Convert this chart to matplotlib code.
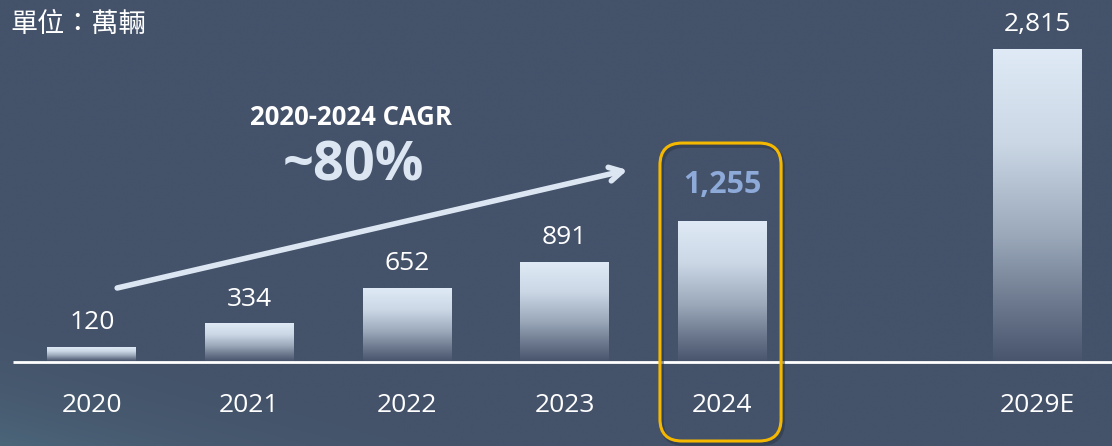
import numpy as np
import matplotlib
matplotlib.use("Agg")
import matplotlib.pyplot as plt
from matplotlib.colors import LinearSegmentedColormap
from matplotlib.patches import FancyBboxPatch

# ---- data ----
categories = ["2020", "2021", "2022", "2023", "2024", "2029E"]
positions = [0, 1, 2, 3, 4, 6]
values = [120, 334, 652, 891, 1255, 2815]
value_labels = ["120", "334", "652", "891", "1,255", "2,815"]
highlight = "2024"
unit_text = "單位：萬輛"
cagr_title = "2020-2024 CAGR"
cagr_value = "~80%"

W, H, DPI = 1112, 446, 100
fig = plt.figure(figsize=(W / DPI, H / DPI), dpi=DPI)
ax = fig.add_axes([0, 0, 1, 1])
ax.set_xlim(-0.584, 6.476)
ax.set_ylim(-767, 3258)
ax.axis("off")

# background gradient
bg_cmap = LinearSegmentedColormap.from_list("bg", ["#4b6579", "#475a70", "#44536a", "#44526a"])
yy, xx = np.mgrid[0:1:200j, 0:1:400j]
g = np.clip((xx * 0.9 + (1 - yy) * 1.3) / 1.2, 0, 1)
g = 1 - np.clip((1 - g) ** 3 * 1.0, 0, 1)
ax.imshow(g, extent=(-0.584, 6.476, -767, 3258), origin="upper", cmap=bg_cmap,
          aspect="auto", zorder=0, vmin=0, vmax=1)

# bars with vertical gradient
bar_cmap = LinearSegmentedColormap.from_list(
    "bar", [(0.0, "#dfeaf6"), (0.3, "#cbd7e5"), (0.6, "#9aa8ba"),
            (0.82, "#6c788d"), (1.0, "#48556d")])
grad = np.linspace(0, 1, 256).reshape(-1, 1)
bw = 0.565
for x, v in zip(positions, values):
    ax.imshow(grad, extent=(x - bw / 2, x + bw / 2, 0, v), origin="upper",
              cmap=bar_cmap, aspect="auto", zorder=2)

# baseline
ax.plot([-0.5, 6.476], [-5, -5], color="white", lw=2, zorder=3, solid_capstyle="butt")

latin = "Open Sans"
for x, v, lab, cat in zip(positions, values, value_labels, categories):
    if cat == highlight:
        ax.annotate(lab, (x, v), xytext=(0, 16), textcoords="offset points",
                    ha="center", va="bottom", fontsize=22, fontweight="bold",
                    color="#8eaad9", family=latin, zorder=5)
    else:
        ax.annotate(lab, (x, v), xytext=(0, 9), textcoords="offset points",
                    ha="center", va="bottom", fontsize=19, color="white",
                    family=latin, zorder=5)
    ax.text(x, -405, cat, ha="center", va="center", fontsize=19,
            color="white", family=latin, zorder=5)

# unit title
fig.text(0.009, 0.945, unit_text, ha="left", va="center", fontsize=19.5,
         color="white", family=["Noto Sans CJK TC", "DejaVu Sans"])

# CAGR annotation
ax.annotate("", xy=(3.40, 1724), xytext=(0.16, 659),
            arrowprops=dict(arrowstyle="->,head_length=0.9,head_width=0.5",
                            color="#dce6f3", lw=4, shrinkA=0, shrinkB=0), zorder=4)
ax.text(1.645, 2200, cagr_title, ha="center", va="center", fontsize=18.5,
        fontweight="bold", color="white", family=latin, zorder=5)
ax.text(1.66, 1755, cagr_value, ha="center", va="center", fontsize=39,
        fontweight="bold", color="#dce6f3", family=latin, zorder=5)

# highlight rounded box
aspect = (3258 + 767) / 446 / ((6.476 + 0.584) / 1112)
ax.add_patch(FancyBboxPatch((3.606 + 0.012, -722 - 25), 0.769, 2689,
                            boxstyle="round,pad=0,rounding_size=0.14",
                            mutation_aspect=aspect, fill=False,
                            edgecolor="#2a3344", lw=3, alpha=0.5, zorder=5))
ax.add_patch(FancyBboxPatch((3.606, -722), 0.769, 2689,
                            boxstyle="round,pad=0,rounding_size=0.14",
                            mutation_aspect=aspect, fill=False,
                            edgecolor="#f5b800", lw=2.2, zorder=6))

fig.savefig("out.png", dpi=DPI)
